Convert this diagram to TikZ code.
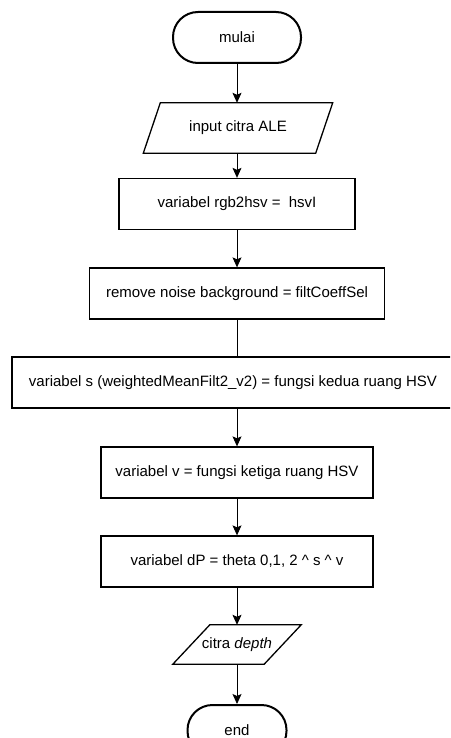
\documentclass[tikz,border=0pt]{standalone}
\usepackage{fontspec}
\setmainfont{Liberation Sans}
\usetikzlibrary{arrows.meta}
\begin{document}
\begin{tikzpicture}[x=1pt,y=-1pt,
  txt/.style={font=\fontsize{15}{17}\selectfont, inner sep=0pt, align=center},
  proc/.style={txt, draw, line width=1.3pt, minimum height=51pt},
  term/.style={txt, draw, line width=2pt, rounded corners=25pt, minimum height=51pt},
  iobox/.style={line width=1.3pt, line join=miter},
  arr/.style={line width=0.9pt, -{Stealth[length=10pt,width=9pt,inset=2pt]}},
  link/.style={line width=0.9pt}]
\useasboundingbox (0,0) rectangle (450,738);
\clip (0,0) rectangle (450,738);

\node[term, minimum width=128pt] (mulai) at (237,37.5) {mulai};
\node[txt, minimum width=172pt, minimum height=50pt] (in) at (238,128) {input citra ALE};
\draw[iobox] ([xshift=8.5pt]in.north west) -- ([xshift=8.5pt]in.north east)
  -- ([xshift=-8.5pt]in.south east) -- ([xshift=-8.5pt]in.south west) -- cycle;
\node[proc, minimum width=236pt] (rgb) at (237,204) {variabel rgb2hsv =\ \ hsvI};
\node[proc, minimum width=295pt] (rem) at (237,293.5) {remove noise background = filtCoeffSel};
\node[proc, minimum width=442pt] (s) at (233,382.5) {variabel s (weightedMeanFilt2\_v2) = fungsi kedua ruang HSV};
\node[proc, minimum width=272pt] (v) at (237,472.5) {variabel v = fungsi ketiga ruang HSV};
\node[proc, minimum width=272pt] (dp) at (237,561.5) {variabel dP = theta 0,1, 2 \^{} s \^{} v};
\node[txt, minimum width=91pt, minimum height=39pt] (out) at (237,644.5) {citra \textit{depth}};
\draw[iobox] ([xshift=18.5pt]out.north west) -- ([xshift=18.5pt]out.north east)
  -- ([xshift=-18.5pt]out.south east) -- ([xshift=-18.5pt]out.south west) -- cycle;
\node[term, minimum width=99pt] (end) at (237,730.5) {end};

\draw[arr] (mulai) -- (in.north -| mulai);
\draw[arr] (in.south -| mulai) -- (rgb);
\draw[arr] (rgb) -- (rem);
\draw[link] (rem.south) -- (rem.south |- s.north);
\draw[arr] (s.south -| rem.south) -- (v);
\draw[arr] (v) -- (dp);
\draw[arr] (dp) -- (out);
\draw[arr] (out) -- (end);
\end{tikzpicture}
\end{document}
